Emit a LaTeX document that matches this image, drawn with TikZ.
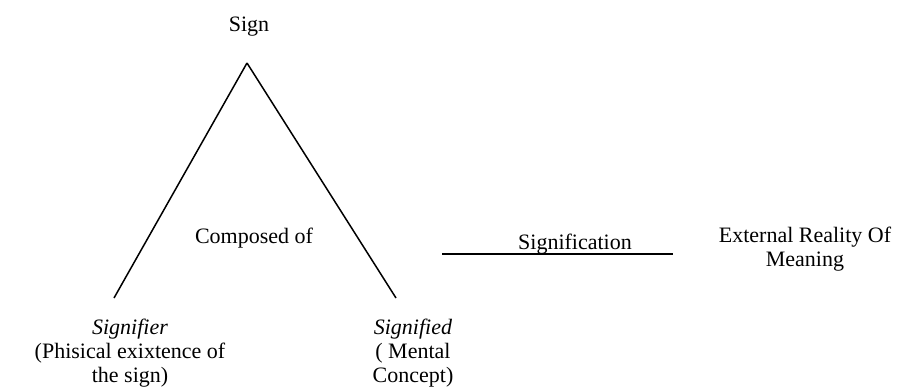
\documentclass[tikz,border=0pt]{standalone}
\usepackage{fontspec}
\setmainfont{Liberation Serif}
\begin{document}
\begin{tikzpicture}[x=1pt,y=-1pt,font=\fontsize{22}{24}\selectfont]
\tikzstyle{t}=[inner sep=0,align=center,anchor=base]
\tikzstyle{l}=[line width=1.5pt]
\useasboundingbox (0,0) rectangle (898,391);

    \node[t] (sign) at (249,31){Sign};
    \coordinate (top) at (247,63);
    \coordinate (left) at (114,298);
    \coordinate (right) at (396,298);
    \node[t] (comp) at (254,243){Composed of};
    \node[t] (signif) at (575,249){Signification};
    \coordinate (a) at (442,254);
    \coordinate (b) at (673,254);
    % base of a two/three line node is its last line
    \node[t] (ext) at (805,266){External Reality Of\\Meaning};
    \node[t] (signifier) at (130,382){\textit{Signifier}\\(Phisical exixtence of\\the sign)};
    \node[t] (signified) at (413,382){\textit{Signified}\\( Mental\\Concept)};

    \draw[l] (top) -- (left);
    \draw[l] (top) -- (right);
    \draw[l] (a) -- (b);

\end{tikzpicture}
\end{document}
